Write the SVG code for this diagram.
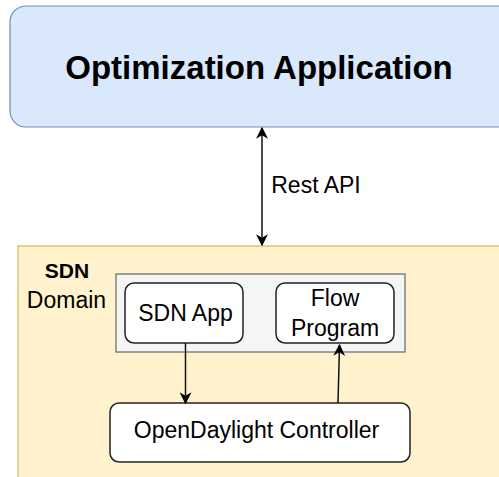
<svg xmlns="http://www.w3.org/2000/svg" width="499" height="477" viewBox="0 0 499 477">
<defs>
<style>
text{font-family:"Liberation Sans",Arial,sans-serif;fill:#000;text-anchor:middle}
.node{fill:#fff;stroke:#222;stroke-width:1.5}
.edge{stroke:#111;stroke-width:1.5;fill:none}
</style>
<marker id="ah" viewBox="0 0 10 10" refX="9" refY="5" markerWidth="12" markerHeight="12" markerUnits="userSpaceOnUse" orient="auto-start-reverse">
<path d="M0,0 L10,5 L0,10 L3,5 z" fill="#000"/>
</marker>
</defs>
<rect width="499" height="477" fill="#fff"/>
<g id="opt-app">
<rect x="10" y="6" width="510" height="121" rx="16" fill="#dae8fc" stroke="#6c8ebf" stroke-width="1.2"/>
<text x="259" y="79" font-size="33" font-weight="bold">Optimization Application</text>
</g>
<g id="sdn-domain">
<rect x="18" y="246" width="500" height="250" fill="#fff2cc" stroke="#d6b656" stroke-width="1.2"/>
<text x="67" y="278" font-size="21" font-weight="bold">SDN</text>
<text x="66.5" y="308" font-size="23">Domain</text>
</g>
<g id="app-group">
<rect x="116" y="274" width="289" height="78" fill="#f5f5f5" stroke="#666" stroke-width="1.2"/>
</g>
<g id="sdn-app">
<rect class="node" x="125" y="283" width="118" height="60" rx="9"/>
<text x="185.5" y="321" font-size="23">SDN App</text>
</g>
<g id="flow-program">
<rect class="node" x="276" y="283" width="118" height="60" rx="9"/>
<text x="335" y="306" font-size="23">Flow</text>
<text x="335" y="336" font-size="23">Program</text>
</g>
<g id="odl-controller">
<rect class="node" x="110" y="403" width="300" height="59" rx="9"/>
<text x="256.5" y="438" font-size="23">OpenDaylight Controller</text>
</g>
<g id="connectors">
<line class="edge" x1="262" y1="128" x2="262" y2="245" marker-start="url(#ah)" marker-end="url(#ah)"/>
<text x="316" y="193" font-size="23">Rest API</text>
<line class="edge" x1="185.5" y1="343" x2="185.5" y2="403" marker-end="url(#ah)"/>
<line class="edge" x1="338" y1="403" x2="339.5" y2="345" marker-end="url(#ah)" stroke="#333"/>
</g>
</svg>
